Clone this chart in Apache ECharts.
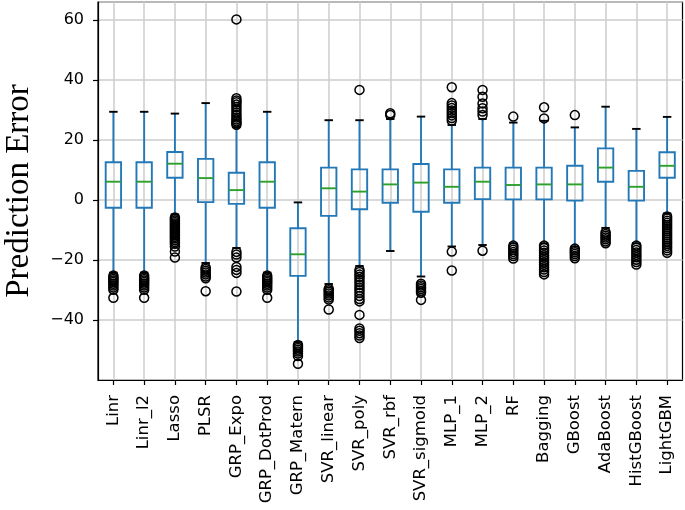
<!DOCTYPE html>
<html>
<head>
<meta charset="utf-8">
<script src="https://cdn.jsdelivr.net/npm/echarts@6/dist/echarts.min.js"></script>
<style>
  html, body { margin: 0; padding: 0; background: #fff; }
  #chart { width: 685px; height: 510px; }
</style>
</head>
<body>
<div id="chart"></div>
<script>
const categories = ['Linr', 'Linr_l2', 'Lasso', 'PLSR', 'GRP_Expo', 'GRP_DotProd', 'GRP_Matern',
  'SVR_linear', 'SVR_poly', 'SVR_rbf', 'SVR_sigmoid', 'MLP_1', 'MLP_2', 'RF', 'Bagging',
  'GBoost', 'AdaBoost', 'HistGBoost', 'LightGBM'];

const whiskerLow  = [-24.2, -24.2, -4.8, -21.0, -16.0, -24.2, -47.3, -28.0, -22.0, -17.0, -25.5, -15.5, -15.0, -14.4, -14.4, -15.5, -9.3, -14.4, -4.5];
const q1          = [-2.6, -2.6, 7.4, -0.7, -1.3, -2.6, -25.3, -5.3, -3.1, -0.9, -3.9, -0.9, 0.3, 0.2, 0.2, -0.2, 6.1, -0.2, 7.4];
const median      = [6.1, 6.1, 12.1, 7.3, 3.3, 6.1, -18.1, 3.9, 2.8, 5.2, 5.8, 4.4, 6.1, 5.0, 5.2, 5.2, 10.8, 4.4, 11.4];
const q3          = [12.6, 12.6, 16.0, 13.7, 9.1, 12.6, -9.4, 10.8, 10.2, 10.2, 12.0, 10.2, 10.8, 10.8, 10.8, 11.4, 17.2, 9.7, 15.9];
const whiskerHigh = [29.4, 29.4, 28.8, 32.3, 24.3, 29.4, -0.8, 26.6, 26.6, 27.0, 27.8, 25.0, 27.0, 25.8, 26.4, 24.2, 31.1, 23.7, 27.7];

const outliers = [
  [-25.2, -25.8, -26.3, -26.8, -27.3, -27.9, -28.5, -29.2, -29.9, -32.6],
  [-25.2, -25.8, -26.3, -26.8, -27.3, -27.9, -28.5, -29.2, -29.9, -32.6],
  [-5.8, -6.3, -6.8, -7.3, -7.8, -8.3, -8.8, -9.3, -9.8, -10.3, -10.8, -11.3, -11.8, -12.3, -12.8, -13.4, -14.0, -14.6, -15.5, -17.2, -19.2],
  [-22.5, -23.0, -23.6, -24.2, -24.8, -25.5, -26.1, -30.4],
  [25.1, 25.6, 26.2, 26.8, 27.5, 28.3, 29.2, 30.1, 31.0, 31.8, 32.6, 33.2, 33.9, 60.2, -17.3, -18.2, -19.2, -22.3, -23.3, -24.3, -30.5],
  [-25.2, -25.8, -26.3, -26.8, -27.3, -27.9, -28.5, -29.2, -29.9, -32.6],
  [-48.3, -48.8, -49.3, -49.9, -50.5, -51.2, -52.0, -54.6],
  [-29.6, -30.1, -30.6, -31.2, -31.8, -32.5, -33.2, -36.5],
  [36.7, -23.3, -24.0, -24.8, -25.6, -26.5, -27.4, -28.3, -29.2, -30.1, -31.0, -32.0, -33.0, -33.8, -38.3, -42.8, -43.6, -44.4, -45.2, -46.0],
  [28.3, 28.9],
  [-27.9, -28.5, -29.1, -29.7, -30.3, -30.9, -33.3],
  [26.5, 27.3, 28.2, 29.0, 29.8, 30.7, 31.5, 32.3, 37.6, -17.2, -23.5],
  [28.3, 29.5, 30.6, 32.2, 34.4, 36.7, -16.9],
  [27.8, -15.2, -15.9, -16.6, -17.3, -18.0, -18.7, -19.5],
  [27.2, 30.9, -15.2, -16.0, -16.8, -17.6, -18.4, -19.2, -20.0, -20.8, -21.6, -22.4, -23.2, -24.0, -24.8],
  [28.3, -16.2, -16.8, -17.4, -18.0, -18.7, -19.4],
  [-10.7, -11.3, -11.9, -12.5, -13.1, -13.8, -14.4],
  [-15.2, -15.9, -16.7, -17.5, -18.3, -19.1, -19.9, -20.7, -21.5],
  [-5.5, -6.2, -6.9, -7.6, -8.3, -9.0, -9.7, -10.4, -11.1, -11.8, -12.5, -13.2, -13.9, -14.6, -15.3, -16.0, -16.8, -17.6]
];

const yTickMin = -60, yTickMax = 66, yTickStep = 20;

const BLUE = '#2379b8', GREEN = '#2ca02c', BLACK = '#000';

const boxData = categories.map((c, i) => [i, whiskerLow[i], q1[i], median[i], q3[i], whiskerHigh[i]]);
const outlierData = [];
outliers.forEach((arr, i) => arr.forEach(v => outlierData.push([i, v])));

function renderBox(params, api) {
  const xi = api.value(0);
  const lo = api.coord([xi, api.value(1)]);
  const b1 = api.coord([xi, api.value(2)]);
  const md = api.coord([xi, api.value(3)]);
  const b3 = api.coord([xi, api.value(4)]);
  const hi = api.coord([xi, api.value(5)]);
  const cx = lo[0];
  const bw = api.size([1, 0])[0] * 0.5;
  const cw = bw * 0.55;
  const lw = 1.9;
  return {
    type: 'group',
    children: [
      { type: 'line', shape: { x1: cx, y1: b1[1], x2: cx, y2: lo[1] }, style: { stroke: BLUE, lineWidth: lw } },
      { type: 'line', shape: { x1: cx, y1: b3[1], x2: cx, y2: hi[1] }, style: { stroke: BLUE, lineWidth: lw } },
      { type: 'rect', shape: { x: cx - bw / 2, y: b3[1], width: bw, height: b1[1] - b3[1] }, style: { fill: 'none', stroke: BLUE, lineWidth: lw } },
      { type: 'line', shape: { x1: cx - bw / 2, y1: md[1], x2: cx + bw / 2, y2: md[1] }, style: { stroke: GREEN, lineWidth: lw } },
      { type: 'line', shape: { x1: cx - cw / 2, y1: lo[1], x2: cx + cw / 2, y2: lo[1] }, style: { stroke: BLACK, lineWidth: lw } },
      { type: 'line', shape: { x1: cx - cw / 2, y1: hi[1], x2: cx + cw / 2, y2: hi[1] }, style: { stroke: BLACK, lineWidth: lw } }
    ]
  };
}

const chart = echarts.init(document.getElementById('chart'), null, { renderer: 'canvas' });
chart.setOption({
  backgroundColor: '#fff',
  animation: false,
  grid: {
    left: 98, right: 2.5, top: 2, bottom: 130,
    containLabel: false, outerBoundsMode: 'none',
    show: true, borderColor: '#000', borderWidth: 1.2
  },
  xAxis: {
    type: 'category',
    data: categories,
    boundaryGap: true,
    axisLine: { show: true, onZero: false, lineStyle: { color: '#000', width: 1.2 } },
    axisTick: { show: true, alignWithLabel: true, length: 5, lineStyle: { color: '#000', width: 1.2 } },
    axisLabel: { interval: 0, rotate: 90, margin: 15, color: '#000', fontSize: 16.5, fontFamily: 'DejaVu Sans' },
    splitLine: { show: true, alignWithLabel: true, interval: 0, lineStyle: { color: '#cccccc', width: 1.5 } }
  },
  yAxis: {
    type: 'value',
    min: yTickMin,
    max: yTickMax,
    interval: yTickStep,
    name: 'Prediction Error',
    nameLocation: 'middle',
    nameGap: 62,
    nameTextStyle: { fontFamily: 'Liberation Serif', fontSize: 33, color: '#000' },
    axisLine: { show: true, lineStyle: { color: '#000', width: 1.2 } },
    axisTick: { show: true, length: 5, lineStyle: { color: '#000', width: 1.2 } },
    axisLabel: {
      margin: 14, color: '#000', fontSize: 16, fontFamily: 'DejaVu Sans',
      showMinLabel: false, showMaxLabel: false,
      formatter: v => (v % 20 === 0 ? String(v).replace('-', '\u2212') : '')
    },
    splitLine: { show: true, lineStyle: { color: '#cccccc', width: 1.5 } }
  },
  series: [
    {
      type: 'custom',
      renderItem: renderBox,
      data: boxData,
      encode: { x: 0, y: [1, 2, 3, 4, 5] },
      z: 3,
      silent: true
    },
    {
      type: 'scatter',
      data: outlierData,
      symbol: 'circle',
      symbolSize: 9,
      itemStyle: { color: 'rgba(0,0,0,0)', borderColor: '#000', borderWidth: 1.5, opacity: 1 },
      z: 4,
      silent: true
    }
  ]
});
</script>
</body>
</html>
